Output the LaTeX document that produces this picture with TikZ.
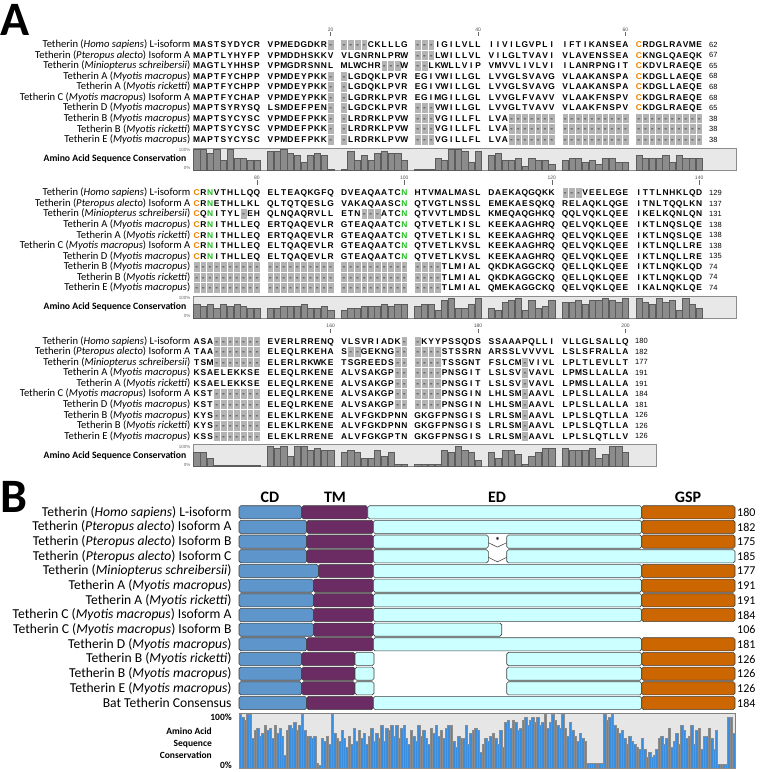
\documentclass[tikz,border=0pt]{standalone}
\usepackage{fontspec}
\setmainfont{Carlito}
\newfontfamily\arialf{Liberation Sans}
\usepackage{tikz}
\usetikzlibrary{positioning}
\definecolor{gapgray}{HTML}{B4B4B4}
\definecolor{stripbg}{HTML}{E8E8E8}
\definecolor{barfill}{HTML}{8C8C8C}
\definecolor{baredge}{HTML}{5C5C5C}
\definecolor{cysorange}{HTML}{F08000}
\definecolor{glygreen}{HTML}{20C020}
\definecolor{cdblue}{HTML}{5E96CB}
\definecolor{tmplum}{HTML}{6A2C62}
\definecolor{edcyan}{HTML}{CCFFFF}
\definecolor{gsporange}{HTML}{CC6600}
\definecolor{consblue}{HTML}{3A8EDD}
\definecolor{chartbg}{HTML}{E6E6E6}

% row names
\newcommand\seqname[1]{\ifcase#1\or Tetherin (\textit{Homo sapiens}) L-isoform\or Tetherin (\textit{Pteropus alecto}) Isoform A\or Tetherin (\textit{Miniopterus schreibersii})\or Tetherin A (\textit{Myotis macropus})\or Tetherin A (\textit{Myotis ricketti})\or Tetherin C (\textit{Myotis macropus}) Isoform A\or Tetherin D (\textit{Myotis macropus})\or Tetherin B (\textit{Myotis macropus})\or Tetherin B (\textit{Myotis ricketti})\or Tetherin E (\textit{Myotis macropus})\fi}
\newcommand\domname[1]{\ifcase#1\or Tetherin (\textit{Homo sapiens}) L-isoform\or Tetherin (\textit{Pteropus alecto}) Isoform A\or Tetherin (\textit{Pteropus alecto}) Isoform B\or Tetherin (\textit{Pteropus alecto}) Isoform C\or Tetherin (\textit{Miniopterus schreibersii})\or Tetherin A (\textit{Myotis macropus})\or Tetherin A (\textit{Myotis ricketti})\or Tetherin C (\textit{Myotis macropus}) Isoform A\or Tetherin C (\textit{Myotis macropus}) Isoform B\or Tetherin D (\textit{Myotis macropus})\or Tetherin B (\textit{Myotis ricketti})\or Tetherin B (\textit{Myotis macropus})\or Tetherin E (\textit{Myotis macropus})\or Bat Tetherin Consensus\fi}

% one residue per column, a blank column after every ten
\newcount\colk
\def\seqscan#1{\ifx#1\relax\else\seqchar#1\expandafter\seqscan\fi}
\def\seqchar#1{%
  \pgfmathsetmacro\cx{196.65+6.7*(\the\colk+int(\the\colk/10))}%
  \if-#1\path[gapcell] (\cx-3.35,\ry-5.28) rectangle (\cx+3.35,\ry+5.28);
    \node[gapres] (res\blk-\r-\the\colk) at (\cx,\ry+3) {-};%
  \else\if c#1\node[res,text=cysorange] (res\blk-\r-\the\colk) at (\cx,\ry+3) {C};%
  \else\if n#1\node[res,text=glygreen] (res\blk-\r-\the\colk) at (\cx,\ry+3) {N};%
  \else\node[res] (res\blk-\r-\the\colk) at (\cx,\ry+3) {#1};\fi\fi\fi
  \global\advance\colk by 1\relax}

% #1 id, #2 first row y, #3 strip end, #4 length x, #5 ticks, #6 rows, #7 conservation
\newcommand\seqblock[7]{%
  \def\blk{#1}\def\by{#2}%
  \foreach \t/\k in {#5}{
    \pgfmathsetmacro\tx{196.65+6.7*(\k+int(\k/10))}
    \node[ticklbl] (tick\t) at (\tx,\by-15) {\t};
    \draw[tickmark] (tick\t.south) -- ++(0,4.5);
  }
  \foreach \sq/\num [count=\r] in {#6}{
    \pgfmathsetmacro\ry{\by+(\r-1)*10.56}
    \node[seqname] (name\blk-\r) at (190.5,\ry) {\seqname{\r}};
    \global\colk=0
    \expandafter\seqscan\sq\relax
    \node[endnum] (len\blk-\r) at (#4,\ry+2.7) {\num};
  }
  \pgfmathsetmacro\st{#2+103.5}\pgfmathsetmacro\sb{#2+125.5}
  \path[stripbox] (193.3,\st) rectangle (#3,\sb);
  \foreach \v [count=\k from 0] in {#7}{
    \pgfmathsetmacro\bx{196.65+6.7*(\k+int(\k/10))}
    \path[consbar] (\bx-3.1,\sb) rectangle (\bx+3.1,\sb-\v*20.5);
  }
  \node[pct] (top\blk) at (190.5,\st+2) {100\%};
  \node[pct] (bot\blk) at (190.5,\sb-2) {0\%};
  \node[striplbl] (cons\blk) at (186.5,\st+11) {Amino Acid Sequence Conservation};
}

% domain segment: style, x from, x to, y
\newcommand\dom[4]{\path[#1] (#2,#4-6.6) rectangle (#3,#4+6.6);}
\newcommand\fullrow[3]{%
  \pgfmathsetmacro\ry{512.3+(#1-1)*14.67}%
  \dom{cdseg}{239}{#2}{\ry}\dom{tmseg}{#2}{#3}{\ry}%
  \dom{edseg}{#3}{641.7}{\ry}\dom{gspseg}{641.7}{735}{\ry}}

\begin{document}
\begin{tikzpicture}[x=1pt,y=-1pt,
  res/.style={font=\fontsize{8.4}{8.4}\selectfont\arialf\bfseries,inner sep=0pt,anchor=base},
  gapres/.style={res,text=black!70},
  gapcell/.style={fill=gapgray,draw=white,line width=0.5pt},
  seqname/.style={font=\fontsize{10.6}{11}\selectfont,anchor=east,inner sep=0pt},
  endnum/.style={font=\fontsize{7.5}{8}\selectfont\arialf,anchor=base west,inner sep=0pt},
  ticklbl/.style={font=\fontsize{5}{5}\selectfont\arialf,text=black!70,inner sep=0.5pt},
  tickmark/.style={draw=black!60,line width=0.5pt},
  stripbox/.style={fill=stripbg,draw=black!45,line width=0.5pt},
  consbar/.style={fill=barfill,draw=baredge,line width=0.4pt},
  pct/.style={font=\fontsize{4.5}{5}\selectfont\arialf,text=black!60,anchor=east,inner sep=0pt},
  striplbl/.style={font=\fontsize{9.7}{10}\selectfont\bfseries,anchor=east,inner sep=0pt},
  panel/.style={font=\fontsize{48}{48}\selectfont\bfseries,anchor=base west,inner sep=0pt},
  seg/.style={draw=black!75,line width=0.6pt,rounded corners=1.8pt},
  cdseg/.style={seg,fill=cdblue},
  tmseg/.style={seg,fill=tmplum},
  edseg/.style={seg,fill=edcyan},
  gspseg/.style={seg,fill=gsporange},
  bname/.style={font=\fontsize{13.6}{14}\selectfont,anchor=east,inner sep=0pt},
  blen/.style={font=\fontsize{12}{12}\selectfont,anchor=west,inner sep=0pt},
  domhead/.style={font=\fontsize{16}{16}\selectfont\bfseries,inner sep=0pt},
  splice/.style={draw=black!70,line width=0.6pt},
  chartbox/.style={fill=chartbg,draw=black!50,line width=0.6pt},
  cbar/.style={fill=consblue,draw=black!45,line width=0.3pt},
  chartlbl/.style={font=\fontsize{9.5}{12}\selectfont\bfseries,align=right,anchor=east,inner sep=0pt},
]
\useasboundingbox (0,0) rectangle (760,772);

% Panel A: alignment
\node[panel] (panA) at (0,35) {A};
\seqblock{1}{44.5}{736.7}{709}{20/19,40/39,60/59}{%
  MASTSYDYCR VPMEDGDKR- ----CKLLLG ---IGILVLL IIVILGVPLI IFTIKANSEA cRDGLRAVME/62,
  MAPTLYHYFP VPMDDHSKKV VLGNRNLPRW ---LWILLVL VILGLTVAVI VLAVENSSEA cKNGLQAEQK/67,
  MAGTLYHHSP VPMGDRSNNL MLWCHR---W --LKWLLVIP VMVVLIVLVI ILANRPNGIT cKDVLRAEQE/65,
  MAPTFYCHPP VPMDEYPKK- -LGDQKLPVR EGIVWILLGL LVVGLSVAVG VLAAKANSPA cKDGLLAEQE/68,
  MAPTFYCHPP VPMDEYPKK- -LGDQKLPVR EGIVWILLGL LVVGLSVAVG VLAAKANSPA cKDGLLAEQE/68,
  MAPTFYCHAP VPMDEYPKK- -LGDRKLPVR EGIMGILLGL LVVGLFVAVV VLAAKFNSPV cKDGLRAEQE/68,
  MAPTSYRYSQ LSMDEFPEN- -LGDCKLPVR ---VWILLGL LVVGLTVAVV VLAAKFNSPV cKDGLRAEQE/65,
  MAPTSYCYSC VPMDEFPKK- -LRDRKLPVW ---VGILLFL LVA------- ---------- ----------/38,
  MAPTSYCYSC VPMDEFPKK- -LRDRKLPVW ---VGILLFL LVA------- ---------- ----------/38,
  MAPTSYCYSC VPMDEFPKK- -LRDRKLPVW ---VGILLFL LVA------- ---------- ----------/38}{%
  1,1,0.8,1,0.5,1,0.6,0.6,0.5,0.5, 0.9,0.9,1,0.8,0.7,0.4,0.7,0.8,0.7,0.05,
  0.05,0.9,0.5,0.7,0.5,0.8,0.9,0.8,0.8,0.5, 0.05,0.05,0.05,0.6,0.5,1,1,0.9,0.4,0.9,
  0.7,0.8,0.5,0.5,0.6,0.2,0.6,0.5,0.5,0.3, 0.5,0.6,0.6,0.4,0.5,0.3,0.6,0.6,0.4,0.4,
  0.7,0.6,0.6,0.6,0.7,0.4,0.7,0.6,0.6,0.6}
\seqblock{2}{192.8}{736.7}{709}{80/9,100/29,120/49,140/69}{%
  cRnVTHLLQQ ELTEAQKGFQ DVEAQAATCn HTVMALMASL DAEKAQGQKK ---VEELEGE ITTLNHKLQD/129,
  cRnETHLLKL QLTQTQESLG VAKAQAASCn QTVGTLNSSL EMEKAESQKQ RELAQKLQGE ITNLTQQLKN/137,
  cQnITYL-EH QLNQAQRVLL ETN---ATCn QTVVTLMDSL KMEQAQGHKQ QQLVQKLQEE IKELKQNLQN/131,
  cRnITHLLEQ ERTQAQEVLR GTEAQAATCn QTVETLKISL KEEKAAGHRQ QELVQKLQEE IKTLNQSLQE/138,
  cRnITHLLEQ ERTQAQEVLR GTEAQAATCn QTVETLKISL KEEKAAGHRQ QELVQKLQEE IKTLNQSLQE/138,
  cRnITHLLEQ ELTQAQEVLR GTEAQAATCn QTVETLKVSL KEEKAAGHRQ QELVQKLQEE IKTLNQLLRE/138,
  cRnITHLLEQ ELTQAQEVLR GTEAQAATCn QTVETLKVSL KEEKAAGHRQ QELVQKLQEE IKTLNQLLRE/135,
  ---------- ---------- ---------- ----TLMIAL QKDKAGGCKQ QELLQKLQEE IKTLNQKLQD/74,
  ---------- ---------- ---------- ----TLMIAL QKDKAGGCKQ QELLQKLQEE IKTLNQKLQD/74,
  ---------- ---------- ---------- ----TLMIAL QMEKAGGCKQ QELVQKLQEE IKALNQKLQE/74}{%
  0.7,0.6,0.7,0.5,0.7,0.6,0.7,0.6,0.5,0.5, 0.5,0.5,0.6,0.6,0.6,0.7,0.5,0.5,0.6,0.4,
  0.4,0.5,0.5,0.6,0.6,0.6,0.7,0.6,0.7,0.7, 0.6,0.7,0.7,0.4,0.9,1,0.5,0.5,0.7,1,
  0.5,0.4,0.8,0.9,1,0.4,0.9,0.5,0.6,0.9, 0.8,0.8,0.9,0.7,0.9,0.9,1,0.9,0.8,1,
  1,0.8,0.7,1,0.8,0.9,0.4,1,0.7,0.5}
\seqblock{3}{341.1}{656.7}{635}{160/19,180/39,200/59}{%
  ASA------- EVERLRRENQ VLSVRIADK- -KYYPSSQDS SSAAAPQLLI VLLGLSALLQ/180,
  TAA------- ELEQLRKEHA S--GEKNG-- ----STSSRN ARSSLVVVVL LSLSFRALLA/182,
  TSM------- ELERLRKWKE TSGREEDS-- ----TSSGNT FSLCM-VIVL LPLTLEVLLT/177,
  KSAELEKKSE ELEQLRKENE ALVSAKGP-- ----PNSGIT LSLSV-VAVL LPMSLLALLA/191,
  KSAELEKKSE ELEQLRKENE ALVSAKGP-- ----PNSGIT LSLSV-VAVL LPMSLLALLA/191,
  KST------- ELEQLRKENE ALVSAKGP-- ----PNSGIN LHLSM-AAVL LPLSLLALLA/184,
  KST------- ELEQLRKENE ALVSAKGP-- ----PNSGIN LHLSM-AAVL LPLSLLALLA/181,
  KYS------- ELEKLRKENE ALVFGKDPNN GKGFPNSGIS LRLSM-AAVL LPLSLQTLLA/126,
  KYS------- ELEKLRKENE ALVFGKDPNN GKGFPNSGIS LRLSM-AAVL LPLSLQTLLA/126,
  KSS------- ELEKLRRENE ALVFGKGPTN GKGFPNSGIS LRLSM-AAVL LPLSLQTLLV/126}{%
  0.7,0.7,0.4,0.05,0.05,0.05,0.05,0.05,0.05,0.05, 1,0.9,1,0.5,1,1,0.8,0.9,0.8,0.8,
  0.7,0.8,0.7,0.4,0.4,0.8,0.5,0.7,0.1,0.1, 0.1,0.1,0.1,0.1,0.8,0.7,1,0.8,0.7,0.3,
  0.7,0.4,0.8,0.8,0.6,0.1,0.5,0.7,0.9,0.9, 0.9,0.8,0.8,0.8,0.9,0.4,0.6,1,1,0.7}

% Panel B: domain map
\node[panel] (panB) at (0,512) {B};
\node[domhead] (hcd) at (270,497) {CD};
\node[domhead] (htm) at (335,497) {TM};
\node[domhead] (hed) at (497,497) {ED};
\node[domhead] (hgsp) at (688,497) {GSP};
\foreach \n [count=\r] in {180,182,175,185,177,191,191,184,106,181,126,126,126,184}{
  \pgfmathsetmacro\ry{512.3+(\r-1)*14.67}
  \node[bname] (bname\r) at (231.7,\ry) {\domname{\r}};
  \node[blen] (blen\r) at (737,\ry) {\n};
}
\fullrow{1}{301.7}{367.7}
\fullrow{2}{306.7}{373.3}
\fullrow{5}{318.3}{373.3}
\fullrow{6}{313.3}{373.3}
\fullrow{7}{313.3}{373.3}
\fullrow{8}{313.3}{373.3}
\fullrow{10}{306.7}{373.3}
\fullrow{14}{306.7}{373.3}
% spliced isoforms
\foreach \r in {3,4}{
  \pgfmathsetmacro\ry{512.3+(\r-1)*14.67}
  \dom{cdseg}{239}{306.7}{\ry}\dom{tmseg}{306.7}{373.3}{\ry}
  \dom{edseg}{373.3}{488.3}{\ry}
  \coordinate (spl\r a) at (488.3,\ry+1);
  \coordinate (spl\r m) at (497.5,\ry+5.5);
  \coordinate (spl\r b) at (506.7,\ry+1);
  \draw[splice] (spl\r a) -- (spl\r m) -- (spl\r b);
}
\pgfmathsetmacro\ry{512.3+2*14.67}
\dom{edseg}{506.7}{641.7}{\ry}\dom{gspseg}{641.7}{735}{\ry}
\node[font=\fontsize{10}{10}\selectfont\bfseries,inner sep=0pt] (stop3) at (497.5,\ry-1) {*};
\pgfmathsetmacro\ry{512.3+3*14.67}
\dom{edseg}{506.7}{735}{\ry}
\pgfmathsetmacro\ry{512.3+8*14.67}
\dom{cdseg}{239}{313.3}{\ry}\dom{tmseg}{313.3}{373.3}{\ry}\dom{edseg}{373.3}{501.7}{\ry}
\foreach \r in {11,12,13}{
  \pgfmathsetmacro\ry{512.3+(\r-1)*14.67}
  \dom{cdseg}{239}{301.7}{\ry}\dom{tmseg}{301.7}{355}{\ry}\dom{edseg}{355}{374}{\ry}
  \dom{edseg}{506.7}{641.7}{\ry}\dom{gspseg}{641.7}{735}{\ry}
}

% conservation chart
\path[chartbox] (239,713.3) rectangle (735,768.3);
\foreach \v [count=\k from 0] in {1,0.95,0.9,1,1,0.55,0.7,0.75,0.6,0.65,
  0.8,0.7,0.75,0.55,0.8,0.65,0.75,0.6,0.25,0.7, 0.8,0.75,0.85,0.7,0.8,1,0.7,0.6,0.6,0.55,
  0.6,0.1,0.05,0.55,0.5,0.6,0.45,1,0.65,0.55, 0.5,0.7,0.55,0.4,0.6,0.45,0.75,0.5,0.7,0.55,
  0.65,0.45,0.6,0.75,0.5,0.65,0.55,0.8,0.5,0.75, 0.7,0.8,0.6,0.8,0.55,0.75,0.8,0.55,0.45,0.7,
  0.6,0.5,0.8,0.6,0.7,0.55,0.45,0.75,0.65,0.8, 0.6,0.7,0.55,0.75,0.8,0.8,0.5,0.4,0.6,0.55,
  0.55,0.8,0.45,0.65,0.7,0.75,0.7,0.3,0.45,0.55, 0.5,0.6,0.65,0.55,0.45,0.7,0.4,0.85,0.9,0.75,
  0.9,0.85,0.7,0.75,0.9,0.95,0.8,0.9,0.95,0.85, 0.95,0.8,0.85,1,0.75,0.85,1,0.9,0.8,0.75,
  1,0.75,0.6,0.85,0.7,0.6,0.5,0.65,0.55,0.5, 0.1,0.1,0.1,0.1,0.1,0.1,0.1,
  1,0.9,0.95,1,0.8,0.75, 0.65,0.7,0.55,0.45,0.6,0.5,0.45,
  0.4,0.35,0.55,0.35,0.2,0.3,0.2,0.25,0.35,0.55, 0.6,0.45,0.55,0.75,0.4,0.5,0.65,0.45,0.8,0.7,
  0.55,0.6,0.8,0.45,0.7,0.75,0.35,0.6,0.6,0.75, 0.55,0.35,0.7, 0.08,0.08,0.08,0.08, 0.95,0.95,0.65}{
  \path[cbar] (239+\k*2.48,768.3) rectangle (239+\k*2.48+2.48,768.3-\v*54);
}
\node[chartlbl] (ctop) at (232,717.5) {100\%};
\node[chartlbl] (cbot) at (232,765) {0\%};
\node[chartlbl] (clbl) at (212,742.7) {Amino Acid\\Sequence\\Conservation};
\end{tikzpicture}
\end{document}
